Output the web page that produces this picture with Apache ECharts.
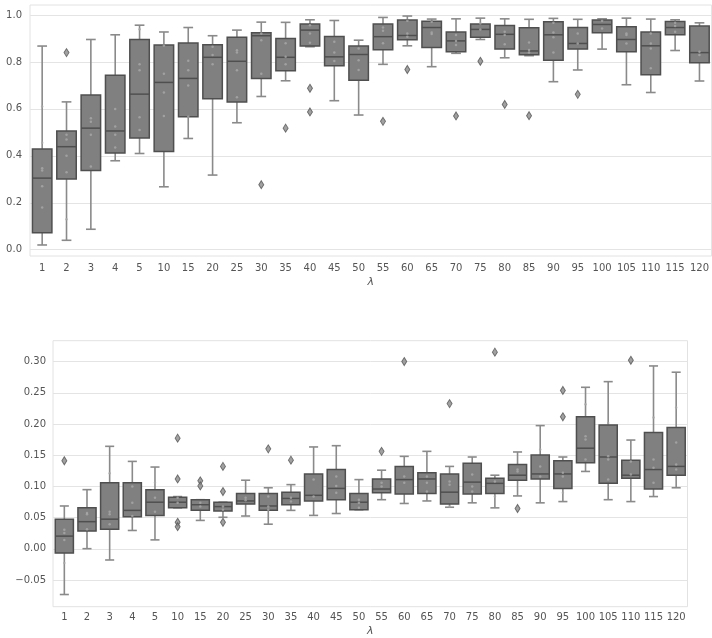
<!DOCTYPE html>
<html><head><meta charset="utf-8">
<script src="https://cdn.jsdelivr.net/npm/echarts@6/dist/echarts.min.js"></script>
<style>html,body{margin:0;padding:0;background:#fff}#c{width:712px;height:638px}</style>
</head><body><div id="c"></div>
<script>
const categories = ['1','2','3','4','5','10','15','20','25','30','35','40','45','50','55','60','65','70','75','80','85','90','95','100','105','110','115','120'];

// [low whisker, Q1, median, Q3, high whisker]
const topBoxes = [
  [0.020,0.072,0.305,0.429,0.868],[0.040,0.301,0.439,0.506,0.630],[0.087,0.338,0.518,0.659,0.896],
  [0.379,0.412,0.506,0.743,0.916],[0.410,0.476,0.663,0.896,0.957],[0.268,0.418,0.713,0.872,0.928],
  [0.474,0.567,0.730,0.881,0.947],[0.318,0.643,0.820,0.874,0.912],[0.541,0.629,0.803,0.905,0.936],
  [0.653,0.730,0.912,0.925,0.970],[0.720,0.763,0.820,0.900,0.969],[0.865,0.868,0.936,0.962,0.980],
  [0.635,0.784,0.822,0.909,0.977],[0.574,0.722,0.832,0.868,0.893],[0.790,0.852,0.908,0.962,0.990],
  [0.869,0.895,0.913,0.979,0.996],[0.780,0.862,0.947,0.974,0.983],[0.837,0.844,0.890,0.928,0.984],
  [0.896,0.906,0.939,0.962,0.987],[0.818,0.855,0.918,0.956,0.984],[0.827,0.831,0.847,0.946,0.982],
  [0.716,0.807,0.916,0.972,0.986],[0.766,0.855,0.879,0.947,0.982],[0.855,0.925,0.960,0.979,0.984],
  [0.703,0.844,0.896,0.950,0.987],[0.670,0.746,0.869,0.928,0.983],[0.849,0.916,0.947,0.973,0.980],
  [0.719,0.797,0.840,0.953,0.967]
];
const topOutliers = [
  ['2',0.84],['30',0.277],['35',0.518],['40',0.688],['40',0.587],['55',0.547],['60',0.768],
  ['70',0.57],['75',0.803],['80',0.619],['85',0.571],['95',0.662]
];
const topPoints = [
  ['1',0.347],['1',0.337],['1',0.27],['1',0.18],['1',0.456],['1',0.61],
  ['2',0.49],['2',0.47],['2',0.40],['2',0.33],['2',0.13],
  ['3',0.56],['3',0.545],['3',0.49],['3',0.355],
  ['4',0.60],['4',0.525],['4',0.49],['4',0.435],
  ['5',0.94],['5',0.79],['5',0.765],['5',0.565],['5',0.51],
  ['10',0.87],['10',0.75],['10',0.67],['10',0.57],
  ['15',0.805],['15',0.765],['15',0.70],['15',0.567],
  ['20',0.865],['20',0.83],['20',0.79],
  ['25',0.85],['25',0.84],['25',0.765],['25',0.65],
  ['30',0.922],['30',0.893],['30',0.75],
  ['35',0.88],['35',0.822],['35',0.79],
  ['40',0.957],['40',0.922],['40',0.882],
  ['45',0.886],['45',0.84],['45',0.804],
  ['50',0.858],['50',0.808],['50',0.766],
  ['55',0.947],['55',0.933],['55',0.88],
  ['60',0.976],['60',0.922],['60',0.908],
  ['65',0.972],['65',0.926],['65',0.919],
  ['70',0.915],['70',0.89],['70',0.872],
  ['75',0.964],['75',0.939],
  ['80',0.929],['80',0.915],['80',0.876],
  ['85',0.883],['85',0.851],['85',0.84],
  ['90',0.967],['90',0.926],['90',0.905],['90',0.84],
  ['95',0.922],['95',0.879],
  ['100',0.976],['100',0.943],
  ['105',0.922],['105',0.915],['105',0.879],
  ['110',0.922],['110',0.879],['110',0.858],['110',0.773],
  ['115',0.967],['115',0.953],['115',0.929],
  ['120',0.844],['120',0.83]
];

const bottomBoxes = [
  [-0.073,-0.007,0.020,0.047,0.068],[0.000,0.028,0.043,0.065,0.094],[-0.018,0.031,0.047,0.105,0.163],
  [0.029,0.051,0.061,0.105,0.139],[0.014,0.053,0.074,0.094,0.130],[0.065,0.065,0.074,0.082,0.083],
  [0.045,0.061,0.070,0.078,0.078],[0.050,0.060,0.067,0.074,0.074],[0.052,0.071,0.076,0.088,0.109],
  [0.039,0.061,0.068,0.088,0.097],[0.061,0.070,0.080,0.090,0.102],[0.053,0.076,0.085,0.119,0.162],
  [0.056,0.078,0.096,0.126,0.164],[0.062,0.062,0.074,0.088,0.110],[0.078,0.089,0.095,0.111,0.125],
  [0.072,0.087,0.110,0.131,0.147],[0.076,0.088,0.111,0.121,0.155],[0.066,0.071,0.090,0.119,0.131],
  [0.073,0.087,0.106,0.136,0.146],[0.065,0.088,0.104,0.112,0.117],[0.084,0.109,0.117,0.134,0.154],
  [0.073,0.111,0.119,0.149,0.196],[0.075,0.096,0.119,0.140,0.146],[0.123,0.137,0.160,0.210,0.257],
  [0.078,0.104,0.146,0.197,0.266],[0.075,0.112,0.117,0.141,0.173],[0.083,0.095,0.126,0.185,0.291],
  [0.097,0.117,0.131,0.193,0.281]
];
const bottomOutliers = [
  ['1',0.14],['10',0.176],['10',0.111],['10',0.042],['10',0.035],['15',0.108],['15',0.100],
  ['20',0.131],['20',0.091],['20',0.042],['30',0.159],['35',0.141],['55',0.155],['60',0.298],
  ['70',0.231],['80',0.313],['85',0.064],['95',0.252],['95',0.210],['110',0.300]
];
const bottomPoints = [
  ['1',0.03],['1',0.025],['1',0.014],['1',-0.023],
  ['2',0.057],['2',0.055],['2',0.031],
  ['3',0.12],['3',0.059],['3',0.055],['3',0.039],
  ['4',0.099],['4',0.073],['4',0.052],
  ['5',0.105],['5',0.081],['5',0.059],
  ['10',0.081],['10',0.073],
  ['15',0.073],['15',0.067],
  ['20',0.067],['20',0.062],
  ['25',0.081],['25',0.077],
  ['30',0.083],['30',0.067],['30',0.062],
  ['35',0.081],['35',0.075],
  ['40',0.11],['40',0.083],
  ['45',0.115],['45',0.10],['45',0.089],
  ['50',0.078],['50',0.073],['50',0.065],
  ['55',0.105],['55',0.099],
  ['60',0.115],['60',0.105],
  ['65',0.115],['65',0.105],['65',0.091],
  ['70',0.107],['70',0.102],['70',0.067],
  ['75',0.118],['75',0.099],['75',0.091],
  ['80',0.107],['80',0.083],
  ['85',0.126],['85',0.123],
  ['90',0.158],['90',0.131],['90',0.115],
  ['95',0.121],['95',0.115],['95',0.089],
  ['100',0.23],['100',0.179],['100',0.174],['100',0.142],
  ['105',0.20],['105',0.147],['105',0.142],['105',0.11],
  ['110',0.139],['110',0.118],
  ['115',0.209],['115',0.142],['115',0.129],['115',0.105],
  ['120',0.225],['120',0.169],['120',0.134],['120',0.126]
];

const BOX_FILL = '#808080', EDGE = '#4f4f4f', WHISK = '#8a8a8a';
function renderBox(params, api) {
  const x = api.value(0);
  const lo = api.coord([x, api.value(1)]), q1 = api.coord([x, api.value(2)]),
        md = api.coord([x, api.value(3)]), q3 = api.coord([x, api.value(4)]),
        hi = api.coord([x, api.value(5)]);
  const w = api.size([1, 0])[0] * 0.8;
  const cx = lo[0];
  const ls = {stroke: WHISK, lineWidth: 1.6};
  return {type: 'group', children: [
    {type:'line', shape:{x1:cx,y1:lo[1],x2:cx,y2:q1[1]}, style:ls},
    {type:'line', shape:{x1:cx,y1:q3[1],x2:cx,y2:hi[1]}, style:ls},
    {type:'line', shape:{x1:cx-w/4,y1:lo[1],x2:cx+w/4,y2:lo[1]}, style:ls},
    {type:'line', shape:{x1:cx-w/4,y1:hi[1],x2:cx+w/4,y2:hi[1]}, style:ls},
    {type:'rect', shape:{x:cx-w/2,y:q3[1],width:w,height:q1[1]-q3[1]}, style:{fill:BOX_FILL, stroke:EDGE, lineWidth:1.5}},
    {type:'line', shape:{x1:cx-w/2,y1:md[1],x2:cx+w/2,y2:md[1]}, style:{stroke:EDGE, lineWidth:1.5}}
  ]};
}
const fmtMinus = s => s.replace('-', '\u2212');
const lab = {fontFamily:'DejaVu Sans', fontSize:10, color:'#555'};
const dotStyle = {color:'#a9a9a9'};

const chart = echarts.init(document.getElementById('c'), null, {renderer:'canvas'});
chart.setOption({
  animation:false,
  backgroundColor:'#fff',
  grid:[
    {left:30, right:0, top:5, height:251, show:true, borderColor:'#e2e2e2', borderWidth:1, backgroundColor:'#fff'},
    {left:30, right:0, top:15, height:234.7},
    {left:53, right:24.5, top:340.7, height:266, show:true, borderColor:'#e2e2e2', borderWidth:1, backgroundColor:'#fff'},
    {left:53, right:24.5, top:361.7, height:218.3}
  ],
  xAxis:[
    {type:'category', gridIndex:0, data:categories, boundaryGap:true, axisTick:{show:false}, axisLine:{show:false},
     axisLabel:Object.assign({margin:7, interval:0}, lab), name:'λ', nameLocation:'middle', nameGap:21,
     nameTextStyle:{fontFamily:'DejaVu Sans', fontSize:11, fontStyle:'italic', color:'#555'}},
    {type:'category', gridIndex:1, data:categories, show:false},
    {type:'category', gridIndex:2, data:categories, boundaryGap:true, axisTick:{show:false}, axisLine:{show:false},
     axisLabel:Object.assign({margin:6, interval:0}, lab), name:'λ', nameLocation:'middle', nameGap:19,
     nameTextStyle:{fontFamily:'DejaVu Sans', fontSize:11, fontStyle:'italic', color:'#555'}},
    {type:'category', gridIndex:3, data:categories, show:false}
  ],
  yAxis:[
    {type:'value', gridIndex:0, min:-0.027, max:1.043, show:false, splitLine:{show:false}},
    {type:'value', gridIndex:1, min:0, max:1, interval:0.2, axisLine:{show:false}, axisTick:{show:false},
     splitLine:{lineStyle:{color:'#e4e4e4', width:1}},
     axisLabel:Object.assign({margin:8, formatter:v=>(Math.abs(v)<1e-9?0:v).toFixed(1)}, lab)},
    {type:'value', gridIndex:2, min:-0.0924, max:0.3312, show:false, splitLine:{show:false}},
    {type:'value', gridIndex:3, min:-0.05, max:0.30, interval:0.05, axisLine:{show:false}, axisTick:{show:false},
     splitLine:{lineStyle:{color:'#e4e4e4', width:1}},
     axisLabel:Object.assign({margin:7, formatter:v=>{const r=Math.round(v*100)/100; return fmtMinus((Math.abs(r)<1e-9?0:r).toFixed(2));}}, lab)}
  ],
  series:[
    {type:'custom', xAxisIndex:0, yAxisIndex:0, renderItem:renderBox, z:3,
     encode:{x:0, y:[1,2,3,4,5]}, data:topBoxes.map((b,i)=>[i].concat(b))},
    {type:'scatter', xAxisIndex:0, yAxisIndex:0, symbol:'diamond', symbolSize:[5,8], z:4,
     itemStyle:{color:'#8a8a8a', borderColor:'#555', borderWidth:1}, data:topOutliers},
    {type:'scatter', xAxisIndex:0, yAxisIndex:0, symbol:'circle', symbolSize:2.5, z:5,
     itemStyle:dotStyle, data:topPoints},
    {type:'custom', xAxisIndex:2, yAxisIndex:2, renderItem:renderBox, z:3,
     encode:{x:0, y:[1,2,3,4,5]}, data:bottomBoxes.map((b,i)=>[i].concat(b))},
    {type:'scatter', xAxisIndex:2, yAxisIndex:2, symbol:'diamond', symbolSize:[5,8], z:4,
     itemStyle:{color:'#8a8a8a', borderColor:'#555', borderWidth:1}, data:bottomOutliers},
    {type:'scatter', xAxisIndex:2, yAxisIndex:2, symbol:'circle', symbolSize:2.5, z:5,
     itemStyle:dotStyle, data:bottomPoints}
  ]
});
</script></body></html>
